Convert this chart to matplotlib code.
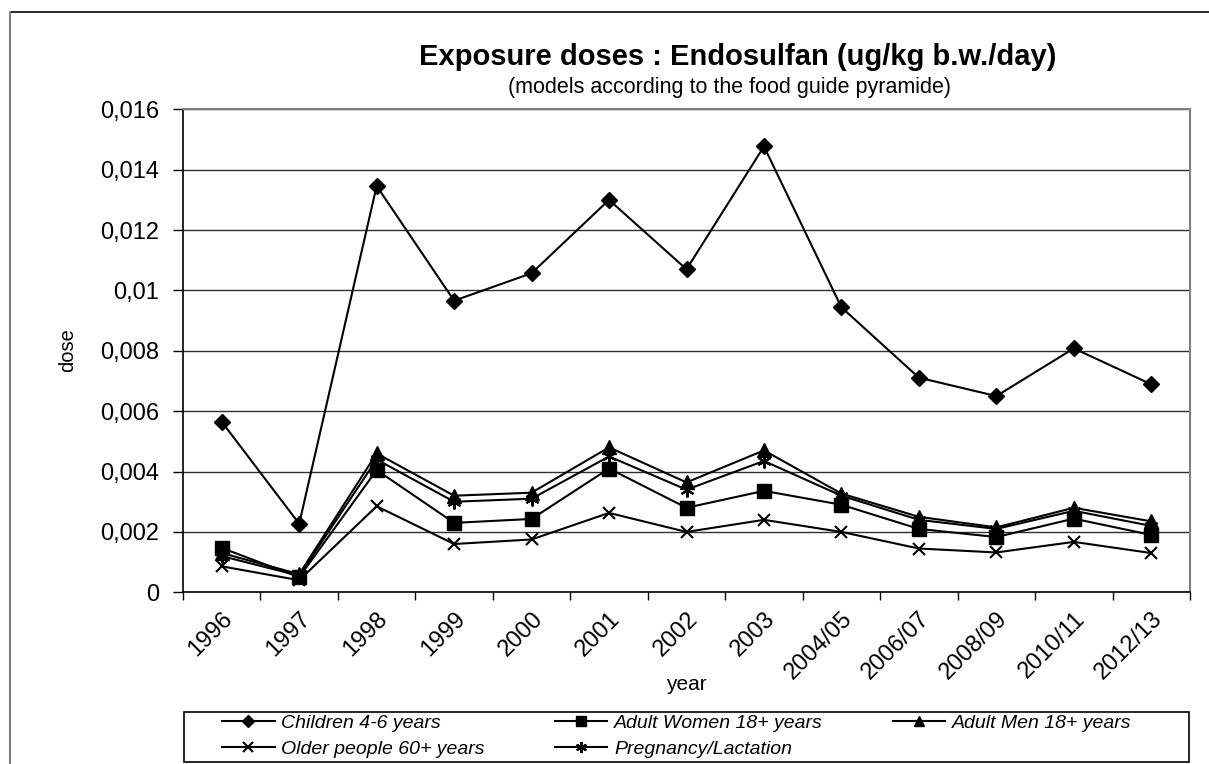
import matplotlib
matplotlib.use("Agg")
import matplotlib.pyplot as plt
import matplotlib.transforms as mtransforms
from matplotlib.lines import Line2D
from matplotlib.patches import Rectangle

# data
years = ['1996', '1997', '1998', '1999', '2000', '2001', '2002', '2003',
         '2004/05', '2006/07', '2008/09', '2010/11', '2012/13']
children = [0.00565, 0.00227, 0.01346, 0.00966, 0.01057, 0.0130, 0.0107,
            0.01477, 0.00944, 0.00711, 0.0065, 0.00808, 0.00689]
women = [0.00147, 0.0005, 0.00405, 0.0023, 0.00243, 0.0041, 0.0028,
         0.00336, 0.0029, 0.0021, 0.00183, 0.00244, 0.0019]
men = [0.0013, 0.0006, 0.0046, 0.0032, 0.0033, 0.0048, 0.00364,
       0.0047, 0.00327, 0.0025, 0.00215, 0.0028, 0.00235]
older = [0.00086, 0.0004, 0.00285, 0.0016, 0.00175, 0.00263, 0.002,
         0.0024, 0.002, 0.00145, 0.00132, 0.00167, 0.0013]
pregnancy = [0.0012, 0.00055, 0.0044, 0.003, 0.0031, 0.0045, 0.0034,
             0.00435, 0.0032, 0.0024, 0.0021, 0.0027, 0.0022]
yticks = [0, 0.002, 0.004, 0.006, 0.008, 0.01, 0.012, 0.014, 0.016]
ytick_labels = ['0', '0,002', '0,004', '0,006', '0,008', '0,01', '0,012', '0,014', '0,016']

plt.rcParams['font.family'] = ['Liberation Sans', 'DejaVu Sans']

W, H = 1209, 764
fig = plt.figure(figsize=(W / 100, H / 100), dpi=100)

# plot area in pixels: x 183..1190, y 109..592
ax = fig.add_axes([183 / W, 1 - 592.3 / H, (1190 - 183) / W, (592.3 - 109.3) / H])

x = list(range(len(years)))
lw = 1.5
h_child, = ax.plot(x, children, color='black', lw=lw, marker='D', ms=8, label='Children 4-6 years', zorder=5)
h_women, = ax.plot(x, women, color='black', lw=lw, marker='s', ms=9.5, label='Adult Women 18+ years', zorder=4)
h_men, = ax.plot(x, men, color='black', lw=lw, marker='^', ms=9.5, label='Adult Men 18+ years', zorder=4)
h_old, = ax.plot(x, older, color='black', lw=lw, marker='x', ms=9, mew=1.5, label='Older people 60+ years', zorder=4)
h_preg, = ax.plot(x, pregnancy, color='black', lw=lw, marker=(6, 2, 0), ms=10, mew=1.5, label='Pregnancy/Lactation', zorder=4)

ax.set_xlim(-0.5, len(years) - 0.5)
ax.set_ylim(0, 0.016)
ax.set_yticks(yticks)
ax.set_yticklabels(ytick_labels, fontsize=17)
ax.yaxis.grid(True, color='#303030', lw=1)
ax.set_axisbelow(True)

ax.set_xticks(x)
ax.set_xticklabels(years, rotation=45, ha='right', rotation_mode='anchor', fontsize=17)
shift = mtransforms.ScaledTranslation(-4 / 100, -1 / 100, fig.dpi_scale_trans)
for lab in ax.get_xticklabels():
    lab.set_transform(lab.get_transform() + shift)
ax.set_xticks([i - 0.5 for i in range(len(years) + 1)], minor=True)
ax.tick_params(axis='x', which='major', length=0, pad=11)
ax.tick_params(axis='x', which='minor', length=6, width=1, direction='out')
ax.tick_params(axis='y', length=7, width=1, direction='out', pad=10)

for s in ['top', 'right']:
    ax.spines[s].set_color('#808080')
    ax.spines[s].set_linewidth(1.5)
for s in ['left', 'bottom']:
    ax.spines[s].set_color('black')
    ax.spines[s].set_linewidth(1.2)

# titles and axis labels
fig.text(738 / W, 1 - 57 / H, 'Exposure doses : Endosulfan (ug/kg b.w./day)',
         ha='center', va='center', fontsize=21, fontweight='bold')
fig.text(730 / W, 1 - 87 / H, '(models according to the food guide pyramide)',
         ha='center', va='center', fontsize=15.5)
fig.text(68 / W, 1 - 350 / H, 'dose', rotation=90, ha='center', va='center', fontsize=14.5)
fig.text(686 / W, 1 - 684 / H, 'year', ha='center', va='center', fontsize=15)

# outer chart border (cropped on right and bottom)
fig.add_artist(Line2D([10 / W, 1], [1 - 11.7 / H, 1 - 11.7 / H], color='black', lw=1.2))
fig.add_artist(Line2D([10 / W, 10 / W], [0, 1 - 11.7 / H], color='#808080', lw=1.5))

# legend box
fig.add_artist(Rectangle((184 / W, 1 - 762 / H), (1189 - 184) / W, (762 - 711.7) / H,
                         transform=fig.transFigure, fill=False, edgecolor='black', lw=1.2))
handles = [h_child, h_old, h_women, h_preg, h_men]
leg = fig.legend(handles=handles, labels=[h.get_label() for h in handles],
                 loc='upper left', bbox_to_anchor=(222 / W, 1 - 714 / H), ncol=3,
                 frameon=False, borderpad=0, borderaxespad=0, markerscale=0.8,
                 handlelength=2.7, handletextpad=0.35, columnspacing=3.6,
                 labelspacing=0.45, prop={'size': 14, 'style': 'italic'})

fig.savefig('out.png', dpi=100)
